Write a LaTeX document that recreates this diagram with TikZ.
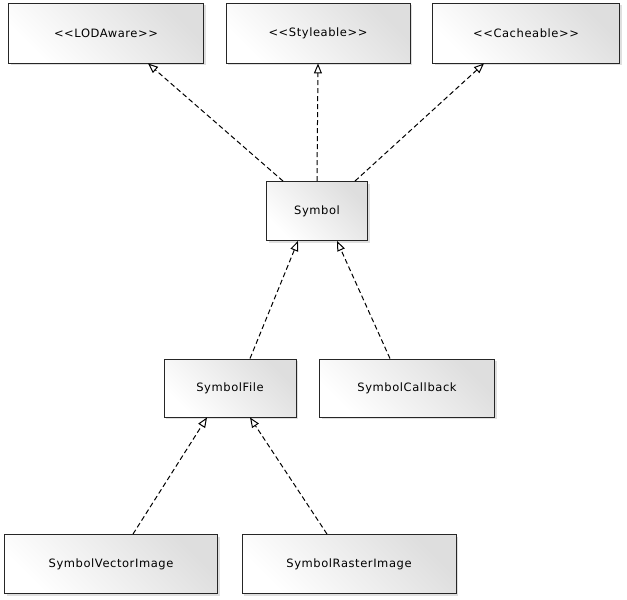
\documentclass[tikz,border=0pt]{standalone}
\usepackage{fontspec}
\setmainfont[LetterSpace=5]{DejaVu Sans}
\usetikzlibrary{arrows.meta,shadows}
\begin{document}
\begin{tikzpicture}[x=1pt,y=-1pt,
            cls/.style={draw=black!85,line width=0.9pt,left color=white,right color=black!13,shading angle=135,
              drop shadow={shadow xshift=2pt,shadow yshift=-2pt,fill=black!25},
              font=\fontsize{11.5}{13}\selectfont,inner sep=0pt},
            real/.style={draw,dashed,line width=1pt,dash pattern=on 5pt off 3pt,-{Triangle[open,length=10pt,width=8pt]}},
            ]
            \useasboundingbox (0,0) rectangle (627,600);

            \node[cls,minimum width=195,minimum height=60] (lod) at (106,33) {<{}<LODAware>{}>};
            \node[cls,minimum width=184,minimum height=60] (sty) at (318,33) {<{}<Styleable>{}>};
            \node[cls,minimum width=187,minimum height=60] (cac) at (526,33) {<{}<Cacheable>{}>};
            \node[cls,minimum width=101,minimum height=59] (sym) at (317,211) {Symbol};
            \node[cls,minimum width=132,minimum height=58] (file) at (230,388) {SymbolFile};
            \node[cls,minimum width=175,minimum height=58] (cb) at (407,388) {SymbolCallback};
            \node[cls,minimum width=213,minimum height=59] (vec) at (111,564) {SymbolVectorImage};
            \node[cls,minimum width=214,minimum height=59] (ras) at (349,564) {SymbolRasterImage};

            \draw[real] ([xshift=-34]sym.north) -- ([xshift=42]lod.south);
            \draw[real] (sym.north) -- (sty.south);
            \draw[real] ([xshift=38]sym.north) -- ([xshift=-42]cac.south);
            \draw[real] ([xshift=20]file.north) -- ([xshift=-19]sym.south);
            \draw[real] ([xshift=-17]cb.north) -- ([xshift=20]sym.south);
            \draw[real] ([xshift=22]vec.north) -- ([xshift=-23]file.south);
            \draw[real] ([xshift=-22]ras.north) -- ([xshift=20]file.south);
        \end{tikzpicture}
\end{document}
